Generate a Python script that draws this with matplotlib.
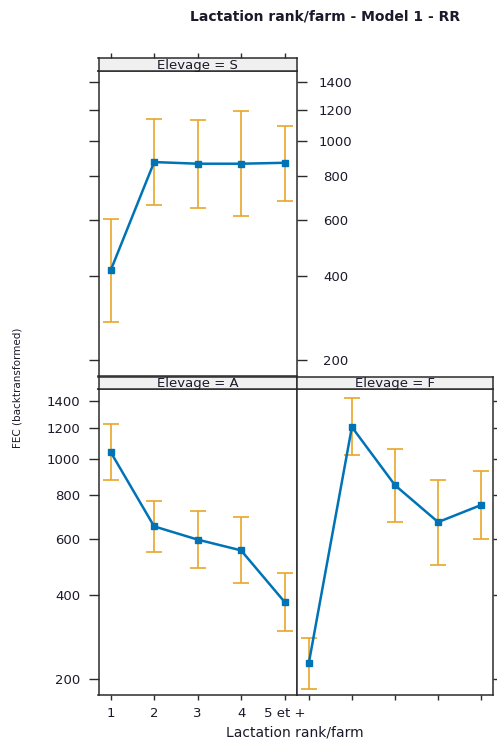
import matplotlib
matplotlib.use('Agg')
import matplotlib.pyplot as plt
import numpy as np

# ---- data ----
categories = ['1', '2', '3', '4', '5 et +']
xpos = [1, 2, 3, 4, 5]
fit_S = [417, 876, 867, 867, 872]
lower_S = [277, 665, 652, 616, 680]
upper_S = [602, 1136, 1127, 1188, 1092]
fit_A = [1044, 652, 596, 553, 379]
lower_A = [882, 545, 489, 438, 301]
upper_A = [1233, 769, 722, 694, 471]
fit_F = [229, 1209, 852, 671, 751]
lower_F = [182, 1028, 671, 500, 600]
upper_F = [284, 1427, 1063, 882, 931]
yticks = [200, 400, 600, 800, 1000, 1200, 1400]

W, H = 497, 742
fig = plt.figure(figsize=(W / 100, H / 100), dpi=100)
plt.rcParams['font.family'] = ['DejaVu Sans']

LINE = '#0073B7'
ERR = '#E9A52A'
FRAME = '#2b2b2b'
STRIPBG = '#F0F0F0'
TXT = '#1a1a2a'
TFS = 9.5


def rect(x0, y0, x1, y1):
    return [x0 / W, 1 - y1 / H, (x1 - x0) / W, (y1 - y0) / H]


fwd = lambda v: np.sign(v) * np.abs(v) ** 0.25
inv = lambda v: np.sign(v) * np.abs(v) ** 4
XLIM = (1 - 0.28, 5 + 0.28)
YLIM = (172, 1494)


def panel(r, fit, lo, up):
    ax = fig.add_axes(rect(*r))
    ax.set_yscale('function', functions=(fwd, inv))
    ax.set_xlim(*XLIM)
    ax.set_ylim(*YLIM)
    yerr = [np.array(fit) - np.array(lo), np.array(up) - np.array(fit)]
    ax.errorbar(xpos, fit, yerr=yerr, fmt='none', ecolor=ERR, elinewidth=1.2,
                capsize=5.5, capthick=1.2, zorder=2)
    ax.plot(xpos, fit, color=LINE, lw=1.8, marker='s', ms=4, zorder=3)
    for s in ax.spines.values():
        s.set_color(FRAME)
        s.set_linewidth(1.1)
    ax.set_yticks(yticks)
    ax.set_yticklabels([str(t) for t in yticks])
    ax.yaxis.set_minor_locator(matplotlib.ticker.NullLocator())
    ax.set_xticks(xpos)
    ax.set_xticklabels(categories)
    ax.tick_params(axis='y', direction='out', length=7, width=1, color=FRAME,
                   labelsize=TFS, pad=6, labelcolor=TXT)
    ax.tick_params(axis='x', direction='out', length=3.6, width=1, color=FRAME,
                   labelsize=TFS, pad=5, labelcolor=TXT)
    return ax


def strip(r, label, top_ticks=False):
    ax = fig.add_axes(rect(*r))
    ax.set_facecolor(STRIPBG)
    ax.set_xlim(*XLIM)
    ax.set_ylim(0, 1)
    for s in ax.spines.values():
        s.set_color(FRAME)
        s.set_linewidth(1.1)
    ax.set_yticks([])
    if top_ticks:
        ax.set_xticks(xpos)
        ax.tick_params(axis='x', bottom=False, top=True, labelbottom=False,
                       labeltop=False, direction='out', length=3.6, width=1,
                       color=FRAME)
    else:
        ax.set_xticks([])
    ax.text(0.5, 0.45, label, transform=ax.transAxes, ha='center', va='center',
            fontsize=9.5, color=TXT)
    return ax


# top panel S
axS = panel((98.5, 70.7, 296.7, 376), fit_S, lower_S, upper_S)
axS.tick_params(axis='y', left=True, right=True, labelleft=False, labelright=True,
                pad=21)
for t in axS.get_yticklabels():
    t.set_ha('center')
axS.tick_params(axis='x', bottom=False, labelbottom=False)
strip((98.5, 58.3, 296.7, 70.7), 'Elevage = S', top_ticks=True)

# bottom-left A
axA = panel((98.5, 389.3, 296.7, 695), fit_A, lower_A, upper_A)
axA.tick_params(axis='y', left=True, right=False, labelleft=True, labelright=False)
strip((98.5, 376.7, 296.7, 389.3), 'Elevage = A')

# bottom-right F
axF = panel((296.7, 389.3, 493.3, 695), fit_F, lower_F, upper_F)
axF.tick_params(axis='y', left=False, right=True, labelleft=False, labelright=False)
axF.tick_params(axis='x', labelbottom=False)
strip((296.7, 376.7, 493.3, 389.3), 'Elevage = F')

fig.text(325 / W, 1 - 16 / H, 'Lactation rank/farm - Model 1 - RR', ha='center',
         va='center', fontsize=10, fontweight='bold', color=TXT)
fig.text(295 / W, 1 - 733 / H, 'Lactation rank/farm', ha='center', va='center',
         fontsize=10, color=TXT)
fig.text(17.5 / W, 1 - 388 / H, 'FEC (backtransformed)', ha='center', va='center',
         rotation=90, fontsize=7.5, family=['Liberation Sans Narrow', 'DejaVu Sans'],
         color=TXT)

fig.savefig('out.png', dpi=100)
